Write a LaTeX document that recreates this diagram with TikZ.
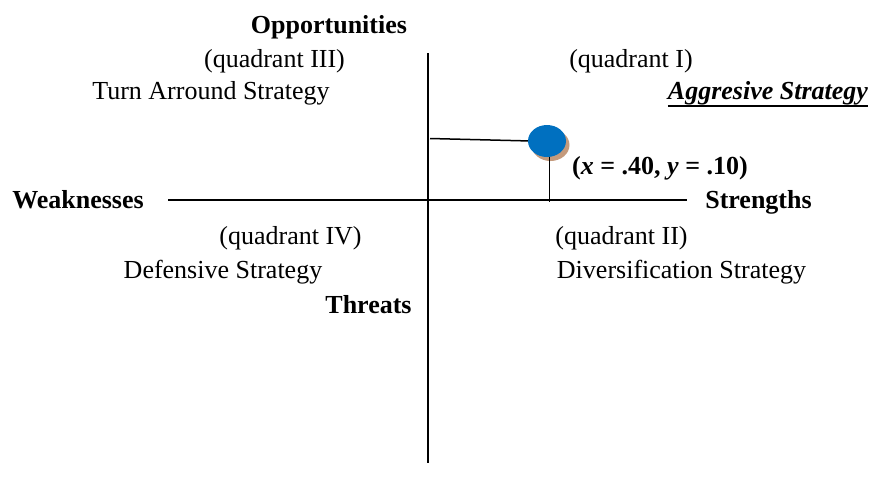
\documentclass[tikz,border=0pt]{standalone}
\usepackage{fontspec}
\setmainfont{Liberation Serif}
\definecolor{dotblue}{HTML}{0070C0}
\definecolor{dotshadow}{HTML}{C49A7C}
\begin{document}
\begin{tikzpicture}[x=1pt,y=-1pt,
  lab/.style={anchor=base,inner sep=0pt,font=\fontsize{26}{30}\selectfont},
  axis/.style={line width=1.5pt},
  guide/.style={line width=1.5pt}]
\useasboundingbox (0,0) rectangle (872,491);
% axes
\coordinate (vtop) at (428,53);
\coordinate (vbot) at (428,463);
\coordinate (hl) at (168,200);
\coordinate (hr) at (687,200);
\draw[axis] (vtop) -- (vbot);
\draw[axis] (hl) -- (hr);
% point
\coordinate (gl) at (430,138.5);
\coordinate (gr) at (531,141);
\coordinate (vt) at (549.5,150);
\coordinate (vb) at (549.5,202);
\fill[dotshadow] (550.5,145) ellipse (19pt and 16pt);
\draw[guide] (gl) -- (gr);
\draw[guide] (vt) -- (vb);
\fill[dotblue] (547,141) ellipse (19pt and 16pt);
% labels
\node[lab] (opp) at (329,33) {\textbf{Opportunities}};
\node[lab] (q3) at (274.5,67) {(quadrant III)};
\node[lab] (turn) at (211,99.5) {Turn Arround Strategy};
\node[lab] (q1) at (631,67) {(quadrant I)};
\node[lab] (agg) at (768,99) {\textbf{\textit{Aggresive Strategy}}};
\draw[line width=1.6pt] ([yshift=-7pt]agg.base west) -- ([yshift=-7pt]agg.base east);
\node[lab] (weak) at (78,208) {\textbf{Weaknesses}};
\node[lab] (str) at (758.5,208) {\textbf{Strengths}};
\node[lab] (pt) at (660,174) {\textbf{(\textit{x} = .40, \textit{y} = .10)}};
\node[lab] (q4) at (290.5,244) {(quadrant IV)};
\node[lab] (def) at (223,278) {Defensive Strategy};
\node[lab] (q2) at (621.5,244) {(quadrant II)};
\node[lab] (div) at (681.5,278) {Diversification Strategy};
\node[lab] (thr) at (368.5,313) {\textbf{Threats}};
\end{tikzpicture}
\end{document}
